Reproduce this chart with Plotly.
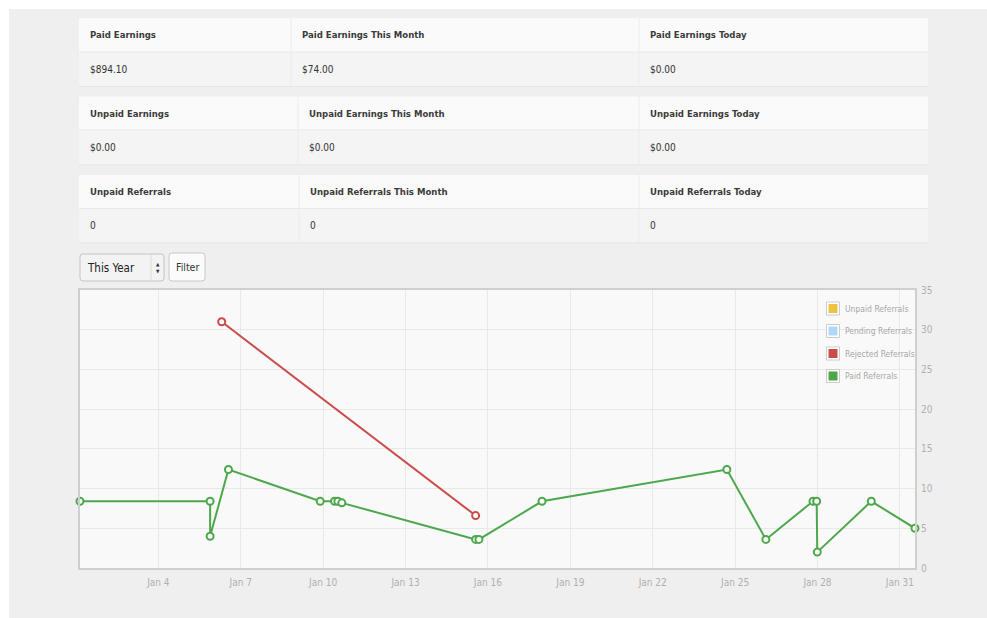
import plotly.graph_objects as go

# ---------------- data ----------------
paid_dates = ["2014-01-01 03:32", "2014-01-05 21:14", "2014-01-05 21:14", "2014-01-06 13:14",
              "2014-01-09 21:26", "2014-01-10 09:56", "2014-01-10 12:50", "2014-01-10 16:20",
              "2014-01-15 13:16", "2014-01-15 16:09", "2014-01-17 23:15", "2014-01-24 16:48",
              "2014-01-26 02:53", "2014-01-27 20:04", "2014-01-27 23:17", "2014-01-27 23:47",
              "2014-01-29 23:00", "2014-01-31 13:12"]
paid_values = [8.4, 8.4, 4.0, 12.4, 8.4, 8.4, 8.4, 8.2, 3.6, 3.6, 8.4, 12.4, 3.6, 8.4, 8.4, 2.0, 8.4, 5.0]

rejected_dates = ["2014-01-06 07:22", "2014-01-15 13:16"]
rejected_values = [31.0, 6.6]

legend_names = ["Unpaid Referrals", "Pending Referrals", "Rejected Referrals", "Paid Referrals"]
legend_colors = ["#edc240", "#afd8f8", "#cb4b4b", "#4da74d"]

table_headers = [["Paid Earnings", "Paid Earnings This Month", "Paid Earnings Today"],
                 ["Unpaid Earnings", "Unpaid Earnings This Month", "Unpaid Earnings Today"],
                 ["Unpaid Referrals", "Unpaid Referrals This Month", "Unpaid Referrals Today"]]
table_values = [["$894.10", "$74.00", "$0.00"],
                ["$0.00", "$0.00", "$0.00"],
                ["0", "0", "0"]]

filter_option = "This Year"
filter_button = "Filter"

# ---------------- layout helpers ----------------
W, H = 987, 618
ML, MR, MT, MB = 80, 72, 290, 50
PW, PH = W - ML - MR, H - MT - MB
FONT = "Liberation Sans Narrow, DejaVu Sans Condensed, Roboto, sans-serif"


def X(px):
    return (px - ML) / PW


def Y(py):
    return 1 - (py - MT) / PH


shapes = []
annotations = []


def rect(x0, y0, x1, y1, fill, line="rgba(0,0,0,0)", lw=1, layer="below"):
    shapes.append(dict(type="rect", xref="paper", yref="paper",
                       x0=X(x0), x1=X(x1), y0=Y(y1), y1=Y(y0),
                       fillcolor=fill, line=dict(color=line, width=lw), layer=layer))


def rrect(x0, y0, x1, y1, r, fill, line, lw=1, layer="below"):
    rx, ry = r / PW, r / PH
    a, b, c, d = X(x0), X(x1), Y(y1), Y(y0)  # left, right, bottom, top
    path = (f"M {a+rx},{d} L {b-rx},{d} Q {b},{d} {b},{d-ry} L {b},{c+ry} Q {b},{c} {b-rx},{c} "
            f"L {a+rx},{c} Q {a},{c} {a},{c+ry} L {a},{d-ry} Q {a},{d} {a+rx},{d} Z")
    shapes.append(dict(type="path", xref="paper", yref="paper", path=path,
                       fillcolor=fill, line=dict(color=line, width=lw), layer=layer))


def vline(x, y0, y1, color, lw=1, layer="below"):
    shapes.append(dict(type="line", xref="paper", yref="paper",
                       x0=X(x), x1=X(x), y0=Y(y0), y1=Y(y1),
                       line=dict(color=color, width=lw), layer=layer))


def hline(x0, x1, y, color, lw=1, layer="below"):
    shapes.append(dict(type="line", xref="paper", yref="paper",
                       x0=X(x0), x1=X(x1), y0=Y(y), y1=Y(y),
                       line=dict(color=color, width=lw), layer=layer))


def text(x, y, s, size=12, color="#333", anchor="left", bold=False):
    annotations.append(dict(xref="paper", yref="paper", x=X(x), y=Y(y),
                            text=f"<b>{s}</b>" if bold else s, showarrow=False,
                            xanchor=anchor, yanchor="middle",
                            font=dict(family=FONT, size=size, color=color)))


# white outer border (top / left), page is grey
rect(-2, -2, W + 2, 9, "#ffffff")
rect(-2, -2, 9, H + 2, "#ffffff")

# tables
table_rows = [(18, 52, 86), (96.5, 130, 164.5), (175, 208.5, 242.5)]
table_cols = [[79, 291, 639, 928], [79, 298, 639, 928], [79, 299, 639, 928]]
for t in range(3):
    top, mid, bot = table_rows[t]
    cols = table_cols[t]
    rect(cols[0], top + 1, cols[-1], bot + 1, "#e6e6e6")  # faint shadow
    rect(cols[0], top, cols[-1], mid, "#fafafa")
    rect(cols[0], mid, cols[-1], bot, "#f4f4f4")
    hline(cols[0], cols[-1], mid, "#e8e8e8")
    for c in range(1, 3):
        vline(cols[c], top, bot, "#ebebeb")
    for c in range(3):
        text(cols[c] + 9, (top + mid) / 2, table_headers[t][c], size=9.5, color="#3a3a3a", bold=True)
        text(cols[c] + 9, (mid + bot) / 2, table_values[t][c], size=10, color="#333")

# filter controls
rrect(80, 254, 164, 281, 3, "#f3f3f3", "#c4c4c4")
vline(151, 255, 280, "#dcdcdc")
text(85, 267.5, filter_option, size=11.5, color="#222")
text(157.5, 264, "▲", size=5, color="#333", anchor="center")
text(157.5, 271, "▼", size=5, color="#333", anchor="center")
rrect(169, 253, 205, 281, 3, "#fbfbfb", "#c8c8c8")
text(187, 267, filter_button, size=10.5, color="#333", anchor="center")

# legend (drawn above grid)
for i, (name, col) in enumerate(zip(legend_names, legend_colors)):
    cy = 308.5 + i * 22.5
    rect(826.5, cy - 6.5, 839.5, cy + 6.5, "#ffffff", "#cccccc", 1, layer="above")
    rect(828.5, cy - 4.5, 837.5, cy + 4.5, col, col, 0, layer="above")
    text(842.5, cy, name, size=8.5, color="#a8a8a8")

# ---------------- traces ----------------
fig = go.Figure()
fig.add_trace(go.Scatter(x=rejected_dates, y=rejected_values, mode="lines+markers",
                         line=dict(color="#cb4b4b", width=2),
                         marker=dict(symbol="circle", size=7, color="#ffffff",
                                     line=dict(color="#cb4b4b", width=2)),
                         cliponaxis=False, showlegend=False, name="Rejected Referrals"))
fig.add_trace(go.Scatter(x=paid_dates, y=paid_values, mode="lines+markers",
                         line=dict(color="#4da74d", width=2),
                         marker=dict(symbol="circle", size=7, color="#ffffff",
                                     line=dict(color="#4da74d", width=2)),
                         cliponaxis=False, showlegend=False, name="Paid Referrals"))

fig.update_layout(
    width=W, height=H,
    margin=dict(l=ML, r=MR, t=MT, b=MB, pad=0),
    paper_bgcolor="#efefef",
    plot_bgcolor="#f9f9f9",
    showlegend=False,
    shapes=shapes,
    annotations=annotations,
    xaxis=dict(type="date", range=[paid_dates[0], paid_dates[-1]],
               tick0="2014-01-04", dtick=3 * 86400000, tickformat="%b %-d",
               showgrid=True, gridcolor="#e9e9e9", gridwidth=1,
               showline=True, linecolor="#cfcfcf", linewidth=2, mirror=True,
               ticks="", zeroline=False, ticklabelstandoff=4,
               tickfont=dict(family=FONT, size=10, color="#b0b0b0")),
    yaxis=dict(range=[0, 35], dtick=5, side="right",
               showgrid=True, gridcolor="#e9e9e9", gridwidth=1,
               showline=True, linecolor="#cfcfcf", linewidth=2, mirror=True,
               ticks="", zeroline=False, ticklabelstandoff=2,
               tickfont=dict(family=FONT, size=10, color="#b0b0b0")),
)

fig.write_html("out.html", config={"displayModeBar": False},
               post_script="document.body.style.margin='0';document.body.style.overflow='hidden';")
